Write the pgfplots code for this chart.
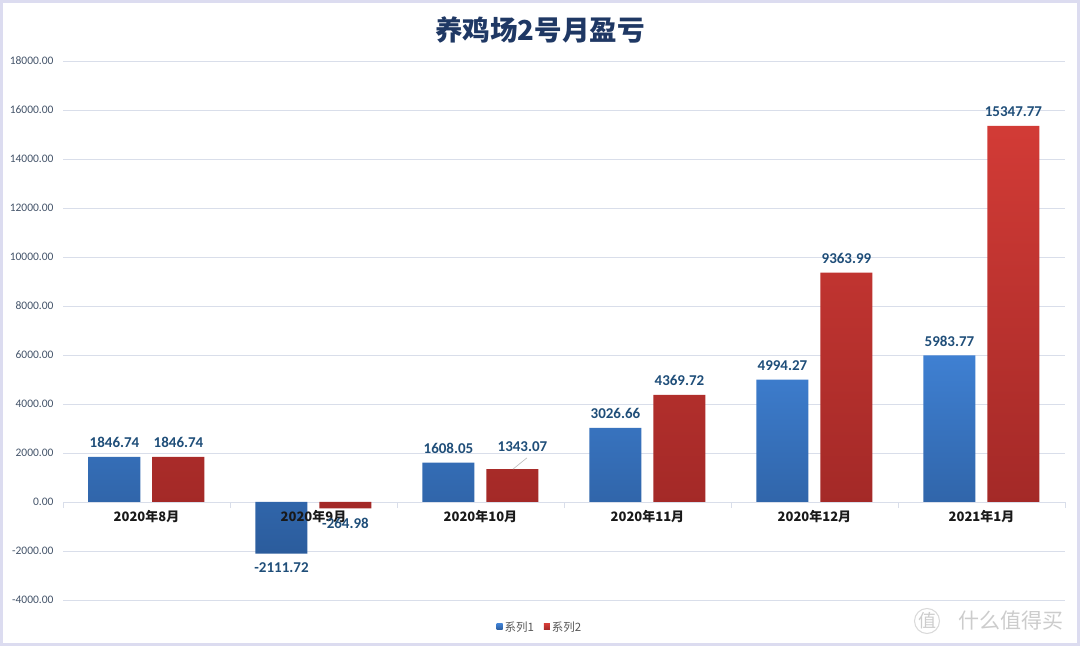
\documentclass[border=0pt]{standalone}
\usepackage{fontspec}
\setmainfont{Carlito}
\newfontfamily\cjk{Noto Sans CJK SC}
\usepackage{pgfplots}
\pgfplotsset{compat=1.18}
\usepackage{pgfplotstable}
\definecolor{gridc}{HTML}{D9DEEA}
\definecolor{lblc}{HTML}{1F4E79}
\definecolor{tickc}{HTML}{44546A}
\definecolor{titlec}{HTML}{1F3864}
\definecolor{blueT}{HTML}{3F80D2}
\definecolor{blueB}{HTML}{2B5C9C}
\definecolor{redT}{HTML}{D23B36}
\definecolor{redB}{HTML}{A32927}
\definecolor{framec}{HTML}{DCDCF0}
\pgfplotsset{/pgf/number format/assume math mode=true,
  myframe/.style={at={(63pt,46pt)}, anchor=south west, scale only axis,
    width=1002pt, height=539pt,
    xmin=-0.5, xmax=5.5, ymin=-4000, ymax=18000}}

\pgfplotstableread{
x y dx dy
0 1846.74 0 0
1 -2111.72 0 0
2 1608.05 0 0
3 3026.66 0 0
4 4994.27 0 0
5 5983.77 0 0
}\seriesA
\pgfplotstableread{
x y dx dy
0 1846.74 0 0
1 -264.98 0 0
2 1343.07 10 8
3 4369.72 0 0
4 9363.99 0 0
5 15347.77 0 0
}\seriesB

\begin{document}
\begin{tikzpicture}
\path[use as bounding box] (0,0) rectangle (1080pt,646pt);
\fill[white] (0,0) rectangle (1080pt,646pt);
\draw[framec, line width=3pt] (1.5pt,1.5pt) rectangle (1078.5pt,644.5pt);
\node[font=\cjk\bfseries\fontsize{27.5}{30}\selectfont, text=titlec] at (540pt,616pt) {养鸡场2号月盈亏};
% background axis: grid lines and y tick labels
\begin{axis}[myframe,
  axis line style={draw=none},
  xtick=\empty,
  scaled y ticks=false,
  ytick={-4000,-2000,...,18000},
  major tick length=0pt,
  yticklabel={\pgfmathprintnumber[fixed,fixed zerofill,precision=2,1000 sep={}]{\tick}},
  yticklabel style={font=\fontsize{11.5}{13}\selectfont, text=tickc, xshift=-6pt},
  ymajorgrids, grid style={draw=gridc, line width=0.8pt},
]
\addplot[draw=none, mark=none] coordinates {(0,0) (5,0)};
\end{axis}
% foreground axis: bars, labels
\begin{axis}[myframe,
  axis on top,
  ybar, bar width=52pt,
  axis x line=middle, axis y line=left,
  axis line style={-, draw=none},
  hide obscured x ticks=false, hide obscured y ticks=false,
  ytick=\empty,
  xtick={0,...,5},
  xticklabels={2020年8月,2020年9月,2020年10月,2020年11月,2020年12月,2021年1月},
  xticklabel style={font=\cjk\bfseries\fontsize{13}{15}\selectfont, text=black!90, yshift=-5pt},
  minor xtick={-0.5,0.5,...,5.5},
  major tick length=0pt, minor tick length=6pt, tick align=outside,
  minor tick style={draw=gridc, line width=0.8pt},
  nodes near coords={\pgfmathprintnumber[fixed,fixed zerofill,precision=2,1000 sep={}]{\pgfplotspointmeta}},
  nodes near coords align=vertical,
  every node near coord/.append style={font=\bfseries\fontsize{15}{17}\selectfont, text=lblc, inner sep=9pt, xshift=\dx pt, yshift=\dy pt},
  legend style={draw=none, fill=none, font=\cjk\fontsize{11.5}{13}\selectfont, text=black!65,
    legend columns=2, /tikz/every even column/.append style={column sep=8pt},
    at={(0.476,-0.05)}, anchor=center},
  legend image code/.code={\path[#1, draw=none] (0pt,-3pt) rectangle (6pt,3pt);},
]
\addplot[draw=none, top color=blueT, bottom color=blueB, bar shift=-32pt,
  visualization depends on={\thisrow{dx} \as \dx},
  visualization depends on={\thisrow{dy} \as \dy}] table[x=x,y=y] {\seriesA};
\addlegendentry{系列1}
\addplot[draw=none, top color=redT, bottom color=redB, bar shift=32pt,
  visualization depends on={\thisrow{dx} \as \dx},
  visualization depends on={\thisrow{dy} \as \dy}] table[x=x,y=y] {\seriesB};
\addlegendentry{系列2}
\draw[gray!55, line width=0.6pt] (axis cs:2.195,1343.07) -- (axis cs:2.278,1800);
\end{axis}
\draw[gray!30, line width=1pt] (927pt,25pt) circle (12.5pt);
\node[text=gray!40, font=\cjk\fontsize{18}{18}\selectfont] at (927pt,25pt) {值};
\node[text=gray!40, font=\cjk\fontsize{21}{21}\selectfont, anchor=west] at (955pt,25pt) {什么值得买};
\end{tikzpicture}
\end{document}
